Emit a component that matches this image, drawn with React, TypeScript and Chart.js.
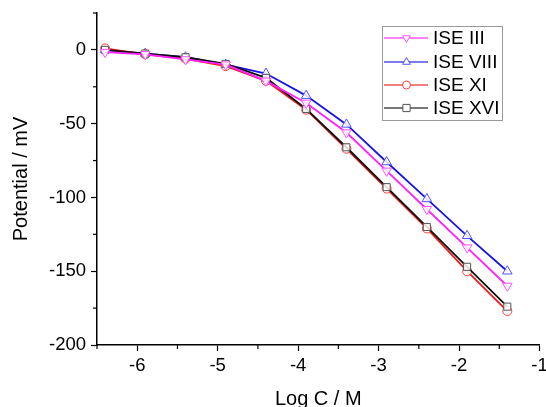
import React, { useEffect, useRef } from "react";
import { Chart, registerables } from "chart.js";
Chart.register(...registerables);

const logC = [-6.4, -5.9, -5.4, -4.9, -4.4, -3.9, -3.4, -2.9, -2.4, -1.9, -1.4];
const iseIII = [-1.5, -3, -6.5, -10, -21, -36, -56, -82, -108, -134, -160];
const iseVIII = [0, -2.5, -5, -10, -16, -31, -50.5, -76, -101, -126, -150];
const iseXI = [1, -3, -6, -11, -21, -40.5, -67, -94, -121, -150, -177];
const iseXVI = [0, -2.5, -5, -9.5, -19, -40, -66, -93, -120, -147, -174];

const xTicks = [-6, -5, -4, -3, -2, -1];
const yTicks = [-200, -150, -100, -50, 0];

const seriesNames = ["ISE III", "ISE VIII", "ISE XI", "ISE XVI"];
const seriesColors = ["#ff22ff", "#1515e6", "#ee1c1c", "#111111"];
const markerColors = ["#ff55ff", "#5050ff", "#ff4040", "#555555"];
const markerStyles = ["triangle", "triangle", "circle", "rect"];
const markerRot = [180, 0, 0, 0];
const drawOrder = [0, 3, 2, 1];

const FONT = "'Liberation Sans', Arial, sans-serif";

function drawPoint(ctx: CanvasRenderingContext2D, style: string, rot: number, x: number, y: number, r: number) {
  ctx.beginPath();
  if (style === "circle") {
    ctx.arc(x, y, r, 0, Math.PI * 2);
  } else if (style === "rect") {
    const s = r * 0.9;
    ctx.rect(x - s, y - s, 2 * s, 2 * s);
  } else {
    const a0 = (rot * Math.PI) / 180 - Math.PI / 2;
    for (let k = 0; k < 3; k++) {
      const a = a0 + (k * 2 * Math.PI) / 3;
      const px = x + Math.cos(a) * r;
      const py = y + Math.sin(a) * r;
      if (k === 0) ctx.moveTo(px, py);
      else ctx.lineTo(px, py);
    }
    ctx.closePath();
  }
  ctx.fill();
  ctx.stroke();
}

export default function App() {
  const ref = useRef<HTMLCanvasElement>(null);
  useEffect(() => {
    document.body.style.margin = "0";
    const values = [iseIII, iseVIII, iseXI, iseXVI];
    const datasets = values.map((v, i) => ({
      label: seriesNames[i],
      data: logC.map((x, j) => ({ x, y: v[j] })),
      borderColor: seriesColors[i],
      borderWidth: 1.8,
      order: drawOrder[i],
      pointStyle: markerStyles[i],
      rotation: markerRot[i],
      pointRadius: markerStyles[i] === "triangle" ? 5.5 : markerStyles[i] === "rect" ? 5 : 4.5,
      pointBorderColor: markerColors[i],
      pointBackgroundColor: "rgba(255,255,255,0.85)",
      pointBorderWidth: 1,
      tension: 0,
    }));
    const extras = {
      id: "extras",
      afterDraw(chart: any) {
        const ctx = chart.ctx;
        const xs = chart.scales.x;
        const ys = chart.scales.y;
        ctx.save();
        ctx.strokeStyle = "#000";
        ctx.lineWidth = 1.2;
        for (let v = -6.5; v <= -1.5; v += 1) {
          const px = xs.getPixelForValue(v);
          ctx.beginPath();
          ctx.moveTo(px, ys.bottom);
          ctx.lineTo(px, ys.bottom + 4);
          ctx.stroke();
        }
        for (let v = -175; v <= 25; v += 50) {
          const py = ys.getPixelForValue(v);
          ctx.beginPath();
          ctx.moveTo(xs.left, py);
          ctx.lineTo(xs.left - 4, py);
          ctx.stroke();
        }
        // legend
        const bx = 382, by = 26, bw = 120, bh = 94;
        ctx.fillStyle = "#fff";
        ctx.fillRect(bx, by, bw, bh);
        ctx.strokeStyle = "#999";
        ctx.lineWidth = 1;
        ctx.strokeRect(bx + 0.5, by + 0.5, bw, bh);
        const rowY = [38, 62, 85, 108];
        ctx.font = `19px ${FONT}`;
        ctx.textBaseline = "middle";
        for (let i = 0; i < 4; i++) {
          const y = rowY[i];
          ctx.strokeStyle = seriesColors[i];
          ctx.globalAlpha = 0.75;
          ctx.lineWidth = 1.5;
          ctx.beginPath();
          ctx.moveTo(384, y);
          ctx.lineTo(428, y);
          ctx.stroke();
          ctx.globalAlpha = 1;
          ctx.fillStyle = "#fff";
          ctx.strokeStyle = markerColors[i];
          ctx.lineWidth = 1;
          drawPoint(ctx, markerStyles[i], markerRot[i], 406.5, y, markerStyles[i] === "triangle" ? 4.5 : 4);
          ctx.fillStyle = "#000";
          ctx.fillText(seriesNames[i], 433, y + 1);
        }
        ctx.restore();
      },
    };
    const chart = new Chart(ref.current!, {
      type: "line",
      data: { datasets: datasets as any },
      options: {
        animation: false,
        responsive: false,
        layout: { padding: { top: 13, right: 5, left: 0, bottom: 0 } },
        plugins: { legend: { display: false }, tooltip: { enabled: false } },
        scales: {
          x: {
            type: "linear",
            min: -6.5,
            max: -1,
            afterFit(s: any) {
              s.height = 62;
              s.paddingLeft = 0;
              s.paddingRight = 0;
            },
            afterBuildTicks(s: any) {
              s.ticks = xTicks.map((v) => ({ value: v }));
            },
            border: { color: "#000", width: 1.5 },
            grid: { display: true, drawOnChartArea: false, drawTicks: true, tickLength: 6, tickColor: "#000", tickWidth: 1.2 },
            ticks: { color: "#000", font: { family: FONT, size: 18.5 }, padding: 4, maxRotation: 0, autoSkip: false },
            title: { display: true, text: "Log C / M", color: "#000", font: { family: FONT, size: 20, lineHeight: 0.75 }, padding: { top: 0, bottom: 0 } },
          },
          y: {
            type: "linear",
            min: -200,
            max: 25,
            afterFit(s: any) {
              s.width = 97;
              s.paddingTop = 0;
              s.paddingBottom = 0;
            },
            afterBuildTicks(s: any) {
              s.ticks = yTicks.map((v) => ({ value: v }));
            },
            border: { color: "#000", width: 1.5 },
            grid: { display: true, drawOnChartArea: false, drawTicks: true, tickLength: 6, tickColor: "#000", tickWidth: 1.2 },
            ticks: { color: "#000", font: { family: FONT, size: 18.5 }, padding: 5, autoSkip: false },
            title: { display: true, text: "Potential / mV", color: "#000", font: { family: FONT, size: 20, lineHeight: 2.1 }, padding: { top: 0, bottom: 0 } },
          },
        },
      },
      plugins: [extras],
    });
    return () => chart.destroy();
  }, []);
  return <canvas ref={ref} width={546} height={407} style={{ display: "block" }} />;
}
